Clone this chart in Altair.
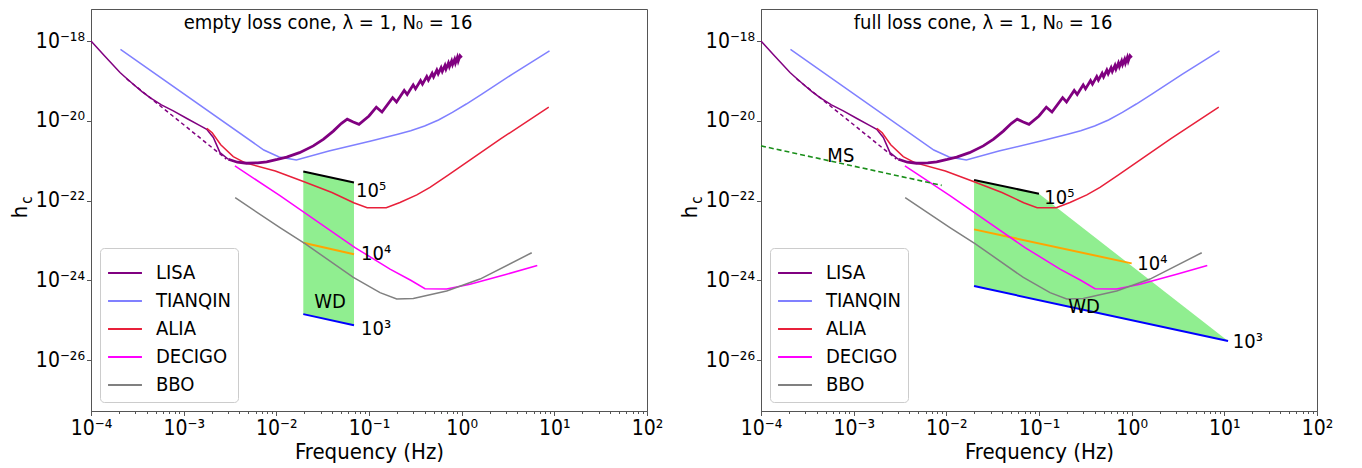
import altair as alt
import numpy as np
import pandas as pd

FONT = "DejaVu Sans Condensed, DejaVu Sans"

DETECTORS = ["LISA", "TIANQIN", "ALIA", "DECIGO", "BBO"]
DET_COLORS = ["#800080", "#8080ff", "#e8203a", "#ff00ff", "#808080"]

# ---- values: log10 f [Hz], log10 h_c ----
LISA_LOGF = [-4.0, -3.85, -3.687, -3.615, -3.544, -3.45, -3.363, -3.24, -3.112,
             -2.96, -2.824, -2.751, -2.68, -2.608, -2.518]
LISA_LOGH = [-18.0, -18.38, -18.79, -18.94, -19.085, -19.27, -19.42, -19.6, -19.75,
             -19.95, -20.12, -20.214, -20.42, -20.80, -20.965]
LISA_HF_LOGF = [-2.518, -2.42, -2.32, -2.2, -2.104, -1.99, -1.888, -1.75, -1.601, -1.49,
                -1.385, -1.30, -1.235, -1.17, -1.108, -1.00, -0.921, -0.860, -0.745,
                -0.703, -0.620, -0.588, -0.523, -0.498, -0.444, -0.423, -0.377, -0.359,
                -0.319, -0.303, -0.268, -0.253, -0.222, -0.209, -0.180, -0.169, -0.143,
                -0.132, -0.108, -0.098, -0.076, -0.067, -0.046, -0.037, -0.018, 0.0]
LISA_HF_LOGH = [-20.965, -21.04, -21.065, -21.055, -21.03, -20.97, -20.91, -20.80, -20.63,
                -20.46, -20.26, -20.07, -19.96, -20.03, -20.09, -19.88, -19.66, -19.78,
                -19.42, -19.53, -19.24, -19.34, -19.10, -19.20, -18.99, -19.08, -18.89,
                -18.98, -18.81, -18.90, -18.73, -18.82, -18.67, -18.76, -18.61, -18.70,
                -18.55, -18.64, -18.50, -18.59, -18.46, -18.55, -18.41, -18.50, -18.37,
                -18.42]
LISA_DASH_LOGF = [-3.615, -2.54]
LISA_DASH_LOGH = [-18.95, -20.96]

TIANQIN_LOGF = [-3.682, -2.135, -1.97, -1.784, -1.433, -0.979, -0.69, -0.55, -0.40,
                -0.25, -0.10, 0.05, 0.218, 0.548, 0.948]
TIANQIN_LOGH = [-18.209, -20.734, -20.91, -20.985, -20.76, -20.51, -20.34, -20.25, -20.13,
                -19.98, -19.79, -19.58, -19.33, -18.83, -18.25]

ALIA_LOGF = [-2.75, -2.692, -2.60, -2.465, -2.341, -2.011, -1.722, -1.40, -1.165,
             -1.02, -0.814, -0.666, -0.484, -0.342, -0.15, 0.1, 0.424, 0.940]
ALIA_LOGH = [-20.19, -20.30, -20.60, -20.90, -21.05, -21.26, -21.51, -21.80, -22.055,
             -22.18, -22.18, -22.05, -21.86, -21.67, -21.37, -20.97, -20.45, -19.656]

DECIGO_LOGF = [-2.447, -1.961, -1.151, -0.773, -0.55, -0.396, -0.162, 0.090, 0.486, 0.816]
DECIGO_LOGH = [-21.13, -21.88, -23.18, -23.72, -24.0, -24.21, -24.22, -24.10, -23.85, -23.63]

BBO_LOGF = [-2.444, -1.961, -1.691, -1.169, -0.881, -0.701, -0.522, -0.162, 0.198, 0.756]
BBO_LOGH = [-21.93, -22.68, -23.08, -23.93, -24.31, -24.47, -24.46, -24.27, -23.97, -23.31]

# white-dwarf band, empty loss cone (left)
WDL_LOGF = [-1.709, -1.162]
WDL_1E5 = [-21.275, -21.55]
WDL_1E4 = [-23.06, -23.35]
WDL_1E3 = [-24.85, -25.13]

# white-dwarf band, full loss cone (right)
WDR_1E5_LOGF = [-1.701, -1.0]
WDR_1E5_LOGH = [-21.487, -21.83]
WDR_1E4_LOGF = [-1.701, 0.0]
WDR_1E4_LOGH = [-22.724, -23.577]
WDR_1E3_LOGF = [-1.701, 1.04]
WDR_1E3_LOGH = [-24.146, -25.525]
WDR_FILL_LOGF = [-1.701, -1.0, 1.04]
WDR_FILL_TOP = [-21.487, -21.83, -25.525]
WDR_FILL_BOT = [-24.146, -24.50, -25.525]

MS_LOGF = [-4.0, -2.05]
MS_LOGH = [-20.63, -21.62]

LEFT_LABELS = ["10\u2075", "10\u2074", "10\u00b3", "WD"]
LEFT_LABEL_LOGF = [-1.140, -1.086, -1.086, -1.59]
LEFT_LABEL_LOGH = [-21.905, -23.50, -25.37, -24.70]
RIGHT_LABELS = ["10\u2075", "10\u2074", "10\u00b3", "WD", "MS"]
RIGHT_LABEL_LOGF = [-0.943, 0.061, 1.091, -0.684, -3.284]
RIGHT_LABEL_LOGH = [-22.10, -23.75, -25.69, -24.83, -21.03]

PANEL_TITLES = ["empty loss cone, \u03bb = 1, N\u2080 = 16", "full loss cone, \u03bb = 1, N\u2080 = 16"]
TITLE_LOGF = -3.0
TITLE_LOGH = -17.7

X_TICKS = [k * 10.0 ** e for e in range(-4, 2) for k in range(1, 10)] + [100.0]
Y_TICKS = [1e-18, 1e-20, 1e-22, 1e-24, 1e-26]

W, H = 556, 402
X_DOMAIN = [1e-4, 1e2]
Y_DOMAIN = [10 ** -27.279, 10 ** -17.197]


def frame(logf, logh, **extra):
    d = pd.DataFrame({"f": np.power(10.0, logf), "h": np.power(10.0, logh)})
    for k, v in extra.items():
        d[k] = v
    return d


LOG10 = "(log(datum.value)/LN10)"
MAJOR = f"abs({LOG10} - round({LOG10})) < 0.001"
sup_map = [("-", "\u207b"), ("0", "\u2070"), ("1", "\u00b9"), ("2", "\u00b2"), ("3", "\u00b3"),
           ("4", "\u2074"), ("5", "\u2075"), ("6", "\u2076"), ("7", "\u2077"), ("8", "\u2078"),
           ("9", "\u2079")]
expr = f"('' + round({LOG10}))"
for a, b in sup_map:
    expr = f"replace({expr}, regexp('{a}', 'g'), '{b}')"
LABEL_EXPR = f"{MAJOR} ? '10' + {expr} : ''"

AX_COLOR = "#555555"
XSCALE = alt.Scale(type="log", domain=X_DOMAIN, nice=False)
YSCALE = alt.Scale(type="log", domain=Y_DOMAIN, nice=False)
XAXIS = alt.Axis(values=X_TICKS, labelExpr=LABEL_EXPR, labelOverlap=False, labelFlush=False,
                 grid=False, tickSize={"condition": {"test": MAJOR, "value": 4.5}, "value": 2.5},
                 labelFontSize=21, titleFontSize=22, titleFontWeight="normal",
                 labelPadding=2, titlePadding=3, tickColor=AX_COLOR, domainColor=AX_COLOR,
                 labelColor="black", titleColor="black", labelFont=FONT, titleFont=FONT)
YAXIS = alt.Axis(values=Y_TICKS, labelExpr=LABEL_EXPR, labelOverlap=False, labelFlush=False,
                 grid=False, tickSize=4.5, labelFontSize=21, labelPadding=2,
                 tickColor=AX_COLOR, domainColor=AX_COLOR, labelColor="black", labelFont=FONT)


def X(field="f"):
    return alt.X(f"{field}:Q", scale=XSCALE, axis=XAXIS, title="Frequency (Hz)")


def Y(field="h"):
    return alt.Y(f"{field}:Q", scale=YSCALE, axis=YAXIS, title=None)


def line(d, color, width=2.0, dash=None):
    kw = dict(color=color, strokeWidth=width)
    if dash:
        kw["strokeDash"] = dash
    return alt.Chart(d).mark_line(**kw).encode(x=X(), y=Y())


def detectors():
    parts = [frame(LISA_LOGF, LISA_LOGH, det="LISA"),
             frame(TIANQIN_LOGF, TIANQIN_LOGH, det="TIANQIN"),
             frame(ALIA_LOGF, ALIA_LOGH, det="ALIA"),
             frame(DECIGO_LOGF, DECIGO_LOGH, det="DECIGO"),
             frame(BBO_LOGF, BBO_LOGH, det="BBO")]
    d = pd.concat(parts, ignore_index=True)
    base = alt.Chart(d).mark_line(strokeWidth=1.5).encode(
        x=X(), y=Y(),
        color=alt.Color("det:N", scale=alt.Scale(domain=DETECTORS, range=DET_COLORS),
                        legend=alt.Legend(orient="bottom-left", title=None, symbolType="stroke",
                                          symbolSize=1150, symbolStrokeWidth=1.8,
                                          labelFontSize=20, labelFont=FONT, labelColor="black",
                                          labelOffset=13, rowPadding=0, padding=7,
                                          strokeColor="#cccccc", cornerRadius=4,
                                          fillColor="white", offset=9)),
        detail="det:N")
    hf = line(frame(LISA_HF_LOGF, LISA_HF_LOGH), "#800080", 2.8)
    dash = line(frame(LISA_DASH_LOGF, LISA_DASH_LOGH), "#800080", 1.5, [4, 3])
    return [base, hf, dash]


def texts(labels, lf, lh, size=20):
    d = frame(lf, lh, t=labels)
    return alt.Chart(d).mark_text(align="left", baseline="alphabetic", fontSize=size,
                                  font=FONT, color="black").encode(x=X(), y=Y(), text="t:N")


def ytitle():
    d = pd.DataFrame({"t": ["h", "c"]})
    h = alt.Chart(d.iloc[[0]]).mark_text(angle=270, fontSize=22, font=FONT, color="black",
                                         align="center", baseline="alphabetic").encode(
        x=alt.value(-64), y=alt.value(203), text="t:N")
    c = alt.Chart(d.iloc[[1]]).mark_text(angle=270, fontSize=15, font=FONT, color="black",
                                         align="center", baseline="alphabetic").encode(
        x=alt.value(-59), y=alt.value(191), text="t:N")
    return [h, c]


def title_text(i):
    return texts([PANEL_TITLES[i]], [TITLE_LOGF], [TITLE_LOGH], size=20)


# left panel
wdl = frame(WDL_LOGF, WDL_1E5, bot=np.power(10.0, WDL_1E3))
left_layers = [
    alt.Chart(wdl).mark_area(color="#90ee90", opacity=1).encode(x=X(), y=Y(), y2=alt.Y2("bot:Q")),
    line(frame(WDL_LOGF, WDL_1E5), "black"),
    line(frame(WDL_LOGF, WDL_1E4), "orange"),
    line(frame(WDL_LOGF, WDL_1E3), "blue"),
] + detectors() + [texts(LEFT_LABELS, LEFT_LABEL_LOGF, LEFT_LABEL_LOGH), title_text(0)] + ytitle()
left = alt.layer(*left_layers).properties(width=W, height=H)

wdr = frame(WDR_FILL_LOGF, WDR_FILL_TOP, bot=np.power(10.0, WDR_FILL_BOT))
right_layers = [
    alt.Chart(wdr).mark_area(color="#90ee90", opacity=1).encode(x=X(), y=Y(), y2=alt.Y2("bot:Q")),
    line(frame(WDR_1E5_LOGF, WDR_1E5_LOGH), "black"),
    line(frame(WDR_1E4_LOGF, WDR_1E4_LOGH), "orange"),
    line(frame(WDR_1E3_LOGF, WDR_1E3_LOGH), "blue"),
] + detectors() + [
    line(frame(MS_LOGF, MS_LOGH), "#1a8f1a", 1.6, [5, 3]),
    texts(RIGHT_LABELS, RIGHT_LABEL_LOGF, RIGHT_LABEL_LOGH), title_text(1)] + ytitle()
right = alt.layer(*right_layers).properties(width=W, height=H)

chart = alt.hconcat(left, right, spacing=114, bounds="flush").resolve_scale(
    color="independent").resolve_legend(color="independent").properties(
    padding={"left": 0, "top": 0, "right": 5, "bottom": 0}
).configure(font=FONT).configure_view(stroke=AX_COLOR, strokeWidth=1)

chart.save("out.html", embed_options={"renderer": "svg", "actions": False})
